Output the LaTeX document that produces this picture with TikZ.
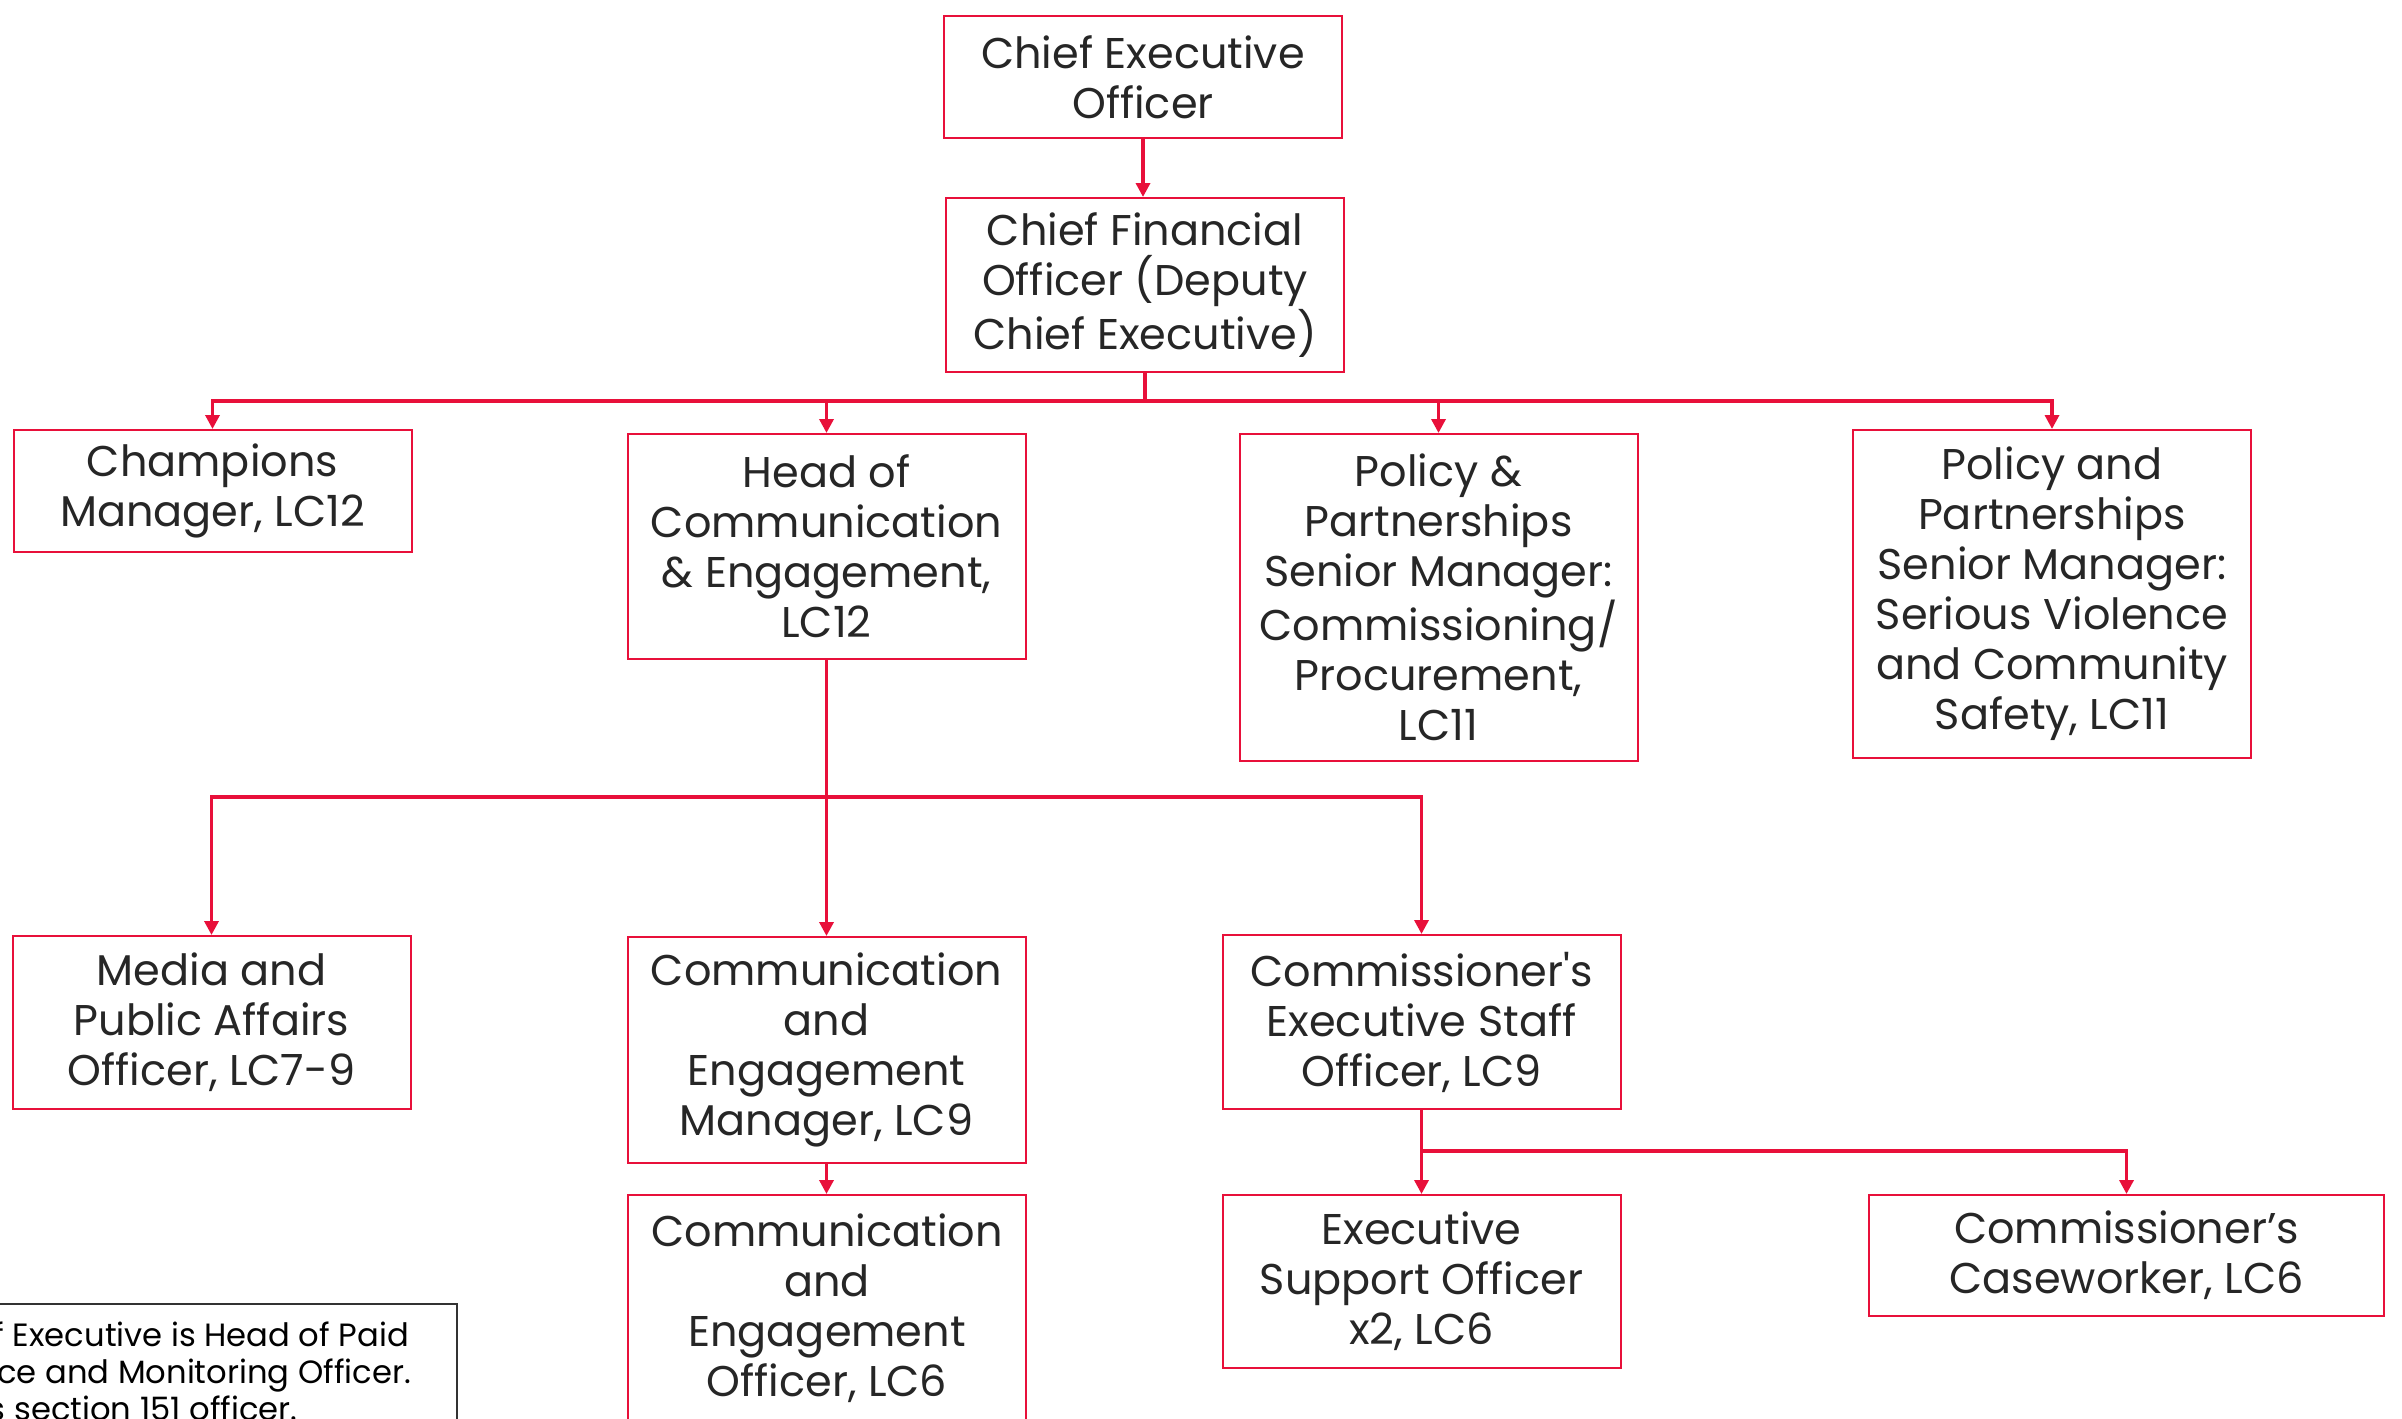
\documentclass[tikz,border=0pt]{standalone}
\usepackage{fontspec}
\setmainfont{Poppins}
\usetikzlibrary{arrows.meta}
\definecolor{brandred}{HTML}{E8103A}
\definecolor{ink}{HTML}{262626}
\definecolor{notegray}{HTML}{333333}
\begin{document}
\begin{tikzpicture}[x=0.5pt,y=-0.5pt,
  role/.style={draw=brandred, line width=1pt, text=ink, align=center, inner sep=0pt,
    minimum width=199pt, font=\fontsize{21.5pt}{25pt}\selectfont},
  link/.style={draw=brandred, line width=1.7pt, -{Triangle[width=7pt,length=7pt]}},
  notebox/.style={draw=notegray, line width=1pt, inner sep=0pt},
  notetext/.style={text=black, align=left, inner sep=0pt, font=\fontsize{16.1pt}{18.5pt}\selectfont}]
\useasboundingbox (0,0) rectangle (2402,1418);

% boxes
\node[role, minimum height=61pt] (ceo) at (1143,77) {Chief Executive\\Officer};
\node[role, minimum height=87pt] (cfo) at (1145,285) {Chief Financial\\Officer (Deputy\\Chief Executive)};
\node[role, minimum height=61pt] (champ) at (212.5,491) {Champions\\Manager, LC12};
\node[role, minimum height=112.5pt] (head) at (826.5,546.5) {Head of\\Communication\\\& Engagement,\\LC12};
\node[role, minimum height=163.5pt] (ppc) at (1438.5,597.5) {Policy \&\\Partnerships\\Senior Manager:\\Commissioning/\\Procurement,\\LC11};
\node[role, minimum height=164pt] (ppsv) at (2052,594) {Policy and\\Partnerships\\Senior Manager:\\Serious Violence\\and Community\\Safety, LC11};
\node[role, minimum height=86.5pt] (media) at (211.5,1022.5) {Media and\\Public Affairs\\Officer, LC7-9};
\node[role, minimum height=113pt] (cem) at (826.5,1050) {Communication\\and\\Engagement\\Manager, LC9};
\node[role, minimum height=87pt] (ces) at (1421.5,1022) {Commissioner\textquotesingle s\\Executive Staff\\Officer, LC9};
\node[role, minimum height=113pt] (ceoff) at (827,1308) {Communication\\and\\Engagement\\Officer, LC6};
\node[role, minimum height=86.5pt] (eso) at (1421.5,1281.5) {Executive\\Support Officer\\x2, LC6};
\node[role, minimum height=60.5pt, minimum width=257.5pt] (cw) at (2126.5,1255.5) {Commissioner’s\\Caseworker, LC6};

% note
\node[notebox, anchor=north east, minimum width=300pt, minimum height=80pt] (note) at (458,1303) {};
\node[notetext, anchor=north west] (notetext) at (-80,1321) {Chief Executive is Head of Paid\\Service and Monitoring Officer.\\\hspace*{-0.45em}CFO is section 151 officer.};

% connectors
\coordinate (bus1) at (0,401);
\coordinate (bus2) at (0,797);
\coordinate (bus3) at (0,1151);

\draw[link] (ceo.south) -- (ceo.south |- cfo.north);

\draw[link] (cfo.south) -- (cfo.south |- bus1) -| (champ.north);
\draw[link] (cfo.south) -- (cfo.south |- bus1) -| (head.north);
\draw[link] (cfo.south) -- (cfo.south |- bus1) -| (ppc.north);
\draw[link] (cfo.south) -- (cfo.south |- bus1) -| (ppsv.north);

\draw[link] (head.south) -- (head.south |- bus2) -| (media.north);
\draw[link] (head.south) -- (cem.north);
\draw[link] (head.south) -- (head.south |- bus2) -| (ces.north);

\draw[link] (cem.south) -- (cem.south |- ceoff.north);

\draw[link] (ces.south) -- (eso.north);
\draw[link] (ces.south) -- (ces.south |- bus3) -| (cw.north);
\end{tikzpicture}
\end{document}
